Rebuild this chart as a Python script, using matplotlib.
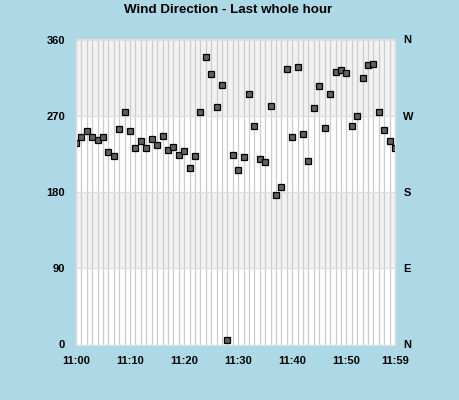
import numpy as np
import matplotlib
matplotlib.use("Agg")
import matplotlib.pyplot as plt

plt.rcParams["font.family"] = ["Liberation Sans", "DejaVu Sans"]

# minutes past 11:00 and wind direction (degrees)
minutes = list(range(60))
direction = [238, 245, 252, 245, 241, 245, 227, 222, 254, 275,
             252, 232, 240, 232, 242, 235, 246, 230, 233, 224,
             228, 208, 223, 275, 339, 319, 280, 306, 5, 224,
             206, 221, 296, 258, 219, 215, 281, 177, 186, 325,
             245, 327, 249, 217, 279, 305, 255, 296, 322, 324,
             320, 258, 270, 315, 330, 331, 275, 253, 240, 232]

tick_minutes = [0, 10, 20, 30, 40, 50, 59]
tick_labels = ["11:00", "11:10", "11:20", "11:30", "11:40", "11:50", "11:59"]
deg_ticks = [0, 90, 180, 270, 360]
compass = ["N", "E", "S", "W", "N"]

BG = "#add8e6"

fig = plt.figure(figsize=(4.6, 4.0), dpi=100, facecolor=BG)
ax = fig.add_axes([76 / 460, 1 - 344.5 / 400, 319 / 460, 305 / 400])
ax.set_facecolor("white")

# alternating bands
for lo, hi in [(90, 180), (270, 360)]:
    ax.axhspan(lo, hi, color="#f2f2f2", lw=0, zorder=0)

# minute grid
for m in minutes:
    ax.axvline(m, color="#cccccc", lw=0.9, zorder=1)
for d in [90, 180, 270]:
    ax.axhline(d, color="#dddddd", lw=0.9, zorder=1)

ax.plot(minutes, direction, ls="none", marker="s", ms=5,
        mfc="#606060", mec="black", mew=0.9, zorder=3)

ax.set_xlim(0, 59)
ax.set_ylim(0, 360)
ax.set_xticks(tick_minutes)
ax.set_xticklabels(tick_labels, fontsize=8, fontweight="bold")
ax.set_yticks(deg_ticks)
ax.set_yticklabels([str(d) for d in deg_ticks], fontsize=8, fontweight="bold")
ax.tick_params(length=0, pad=8)

ax2 = ax.twinx()
ax2.set_ylim(0, 360)
ax2.set_yticks(deg_ticks)
ax2.set_yticklabels(compass, fontsize=8, fontweight="bold")
ax2.tick_params(length=0, pad=6)

for a in (ax, ax2):
    for s in a.spines.values():
        s.set_color("#dddddd")
        s.set_linewidth(0.8)

fig.text(0.497, 1 - 10 / 400, "Wind Direction - Last whole hour",
         ha="center", va="center", fontsize=9.6, fontweight="bold")

fig.savefig("out.png", dpi=100, facecolor=BG)
